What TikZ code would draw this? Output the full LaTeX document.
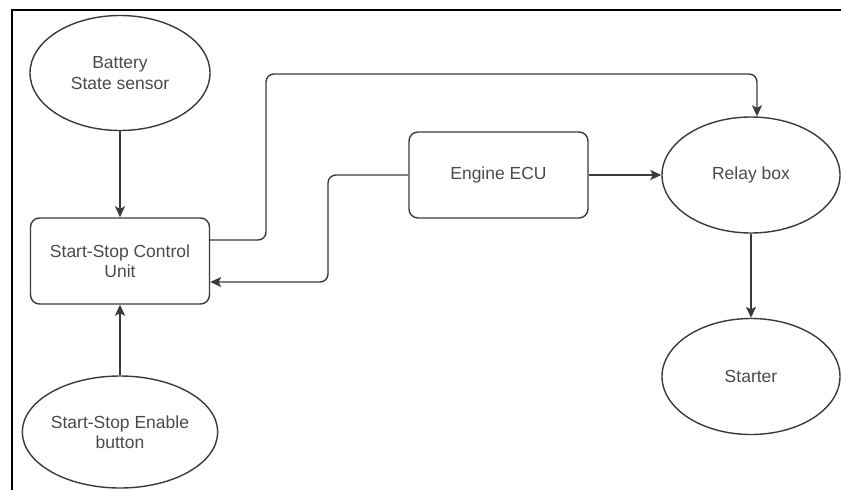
\documentclass[tikz,border=0pt]{standalone}
\usepackage{fontspec}
\setmainfont{Liberation Sans}
\usetikzlibrary{shapes.geometric,arrows.meta}
\definecolor{linec}{HTML}{3A3A3A}
\definecolor{textc}{HTML}{4A4A4A}
\begin{document}
\begin{tikzpicture}[x=1pt,y=-1pt,
  lbl/.style={text=textc, font=\fontsize{17.5}{20.5}\selectfont, align=center},
  ell/.style={lbl, draw=linec, line width=1.4pt, ellipse, minimum width=180pt, minimum height=115pt, inner sep=0pt},
  box/.style={lbl, draw=linec, line width=1.4pt, rounded corners=9pt, minimum width=179pt, minimum height=86pt, inner sep=0pt},
  conn/.style={draw=linec, line width=1.4pt, -{Stealth[length=11pt,width=10pt,inset=2.5pt]}, rounded corners=8pt},
  frame/.style={draw=black, line width=2pt}]
\useasboundingbox (0,0) rectangle (841,490);
\coordinate (fbl) at (12,490);
\coordinate (ftl) at (12,10);
\coordinate (ftr) at (841,10);
\draw[frame] (fbl) -- (ftl) -- (ftr);

\node[ell] (bat) at (120,73) {Battery\\State sensor};
\node[box] (ctrl) at (120,261) {Start-Stop Control\\Unit};
\node[ell, minimum height=112pt] (en) at (120,432) {Start-Stop Enable\\button};
\node[box] (ecu) at (498.5,175) {Engine ECU};
\node[ell, minimum width=178pt, minimum height=116pt] (relay) at (751,175) {Relay box};
\node[ell, minimum width=178pt, minimum height=116pt] (starter) at (751,376.5) {Starter};

\draw[conn] (bat) -- (ctrl);
\draw[conn] (en) -- (ctrl);
\draw[conn] ([yshift=21pt]ctrl.east) -| (266,74) -| ([xshift=6pt]relay.north);
\draw[conn] (ecu.west) -| (328,282) -- ([yshift=-21pt]ctrl.east);
\draw[conn] (ecu) -- (relay);
\draw[conn] (relay) -- (starter);
\end{tikzpicture}
\end{document}
